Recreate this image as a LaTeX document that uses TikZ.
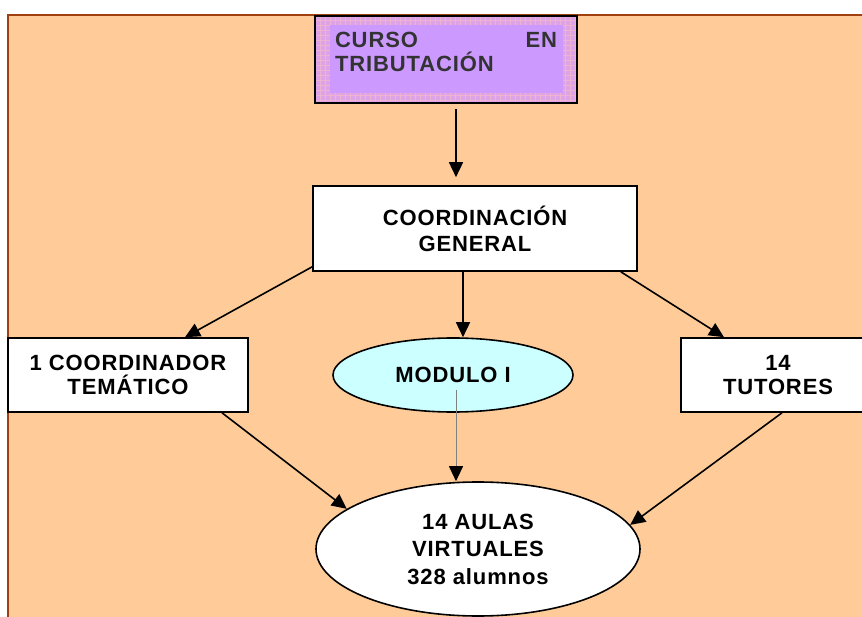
\documentclass[tikz,border=0pt]{standalone}
\usepackage{fontspec}
\newfontfamily\boxfont{Liberation Sans}[LetterSpace=4]
\usetikzlibrary{arrows.meta, shapes.geometric}
\definecolor{bgorange}{HTML}{FFCC99}
\definecolor{bgbrown}{HTML}{A0400F}
\definecolor{lilac}{HTML}{CC99FF}
\definecolor{framepink}{HTML}{DDA3E6}
\definecolor{gridpink}{HTML}{EDB3D3}
\definecolor{lightcyan}{HTML}{CCFFFF}
\begin{document}
\begin{tikzpicture}[x = 1pt, y = -1pt,
		txt/.style = {font = \boxfont\bfseries\fontsize{22}{24}\selectfont, align = center},
		box/.style = {txt, draw, line width = 1.6pt, fill = white},
		oval/.style = {txt, ellipse, draw, line width = 1.6pt},
		arr/.style = {-{Triangle[length = 15pt, width = 14pt, color = black]}, line width = 1.6pt}]
		\clip (0, 0) rectangle (862, 617);
		% Background
		\fill[white] (0, 0) rectangle (862, 617);
		\fill[bgorange] (8, 15) rectangle (880, 630);
		\draw[bgbrown, line width = 2.2pt] (8, 630) -- (8, 15) -- (880, 15);
		% Title box
		\fill[framepink] (315, 16) rectangle (577, 103);
		\draw[gridpink, line width = 0.8pt, step = 5pt] (315, 16) grid (577, 103);
		\fill[lilac] (330, 25) rectangle (563, 93);
		\node[draw, line width = 1.6pt, minimum width = 262pt, minimum height = 87pt] (curso) at (446, 59.5) {};
		\node[txt, align = left, text width = 222pt, text = black!80, inner sep = 0pt] (cursotxt) at (446, 52) {CURSO\hfill EN\\TRIBUTACIÓN};
		% Boxes
		\node[box, minimum width = 324pt, minimum height = 85pt, font = \boxfont\bfseries\fontsize{22}{26}\selectfont] (cg) at (475, 228.5) {COORDINACIÓN\\GENERAL};
		\node[box, minimum width = 240pt, minimum height = 74pt] (coord) at (128, 375) {1 COORDINADOR\\TEMÁTICO};
		\node[oval, fill = lightcyan, minimum width = 240pt, minimum height = 74pt] (mod) at (453, 375) {MODULO I};
		\node[box, minimum width = 194pt, minimum height = 74pt] (tut) at (778, 375) {14\\TUTORES};
		\node[oval, fill = white, minimum width = 324pt, minimum height = 134pt, font = \boxfont\bfseries\fontsize{22}{27.5}\selectfont] (aulas) at (478, 549) {14 AULAS\\VIRTUALES\\328 alumnos};
		% Arrows
		\draw[arr] ([xshift = 10pt, yshift = -5pt]curso.south) -- ([xshift = -19pt, yshift = 8pt]cg.north);
		\draw[arr] ([yshift = 5pt]cg.south west) -- ([xshift = 57pt]coord.north);
		\draw[arr] ([xshift = -12pt]cg.south) -- ([xshift = 10pt]mod.north);
		\draw[arr] ([xshift = -17pt]cg.south east) -- ([xshift = -54pt]tut.north);
		\draw[arr] ([xshift = 94pt]coord.south) -- (aulas.163);
		\draw[arr, draw = gray, line width = 1pt] ([xshift = 3pt, yshift = -15pt]mod.center) -- ([xshift = -22pt]aulas.north);
		\draw[arr] ([xshift = 4pt]tut.south) -- (aulas.9);
	\end{tikzpicture}
\end{document}
